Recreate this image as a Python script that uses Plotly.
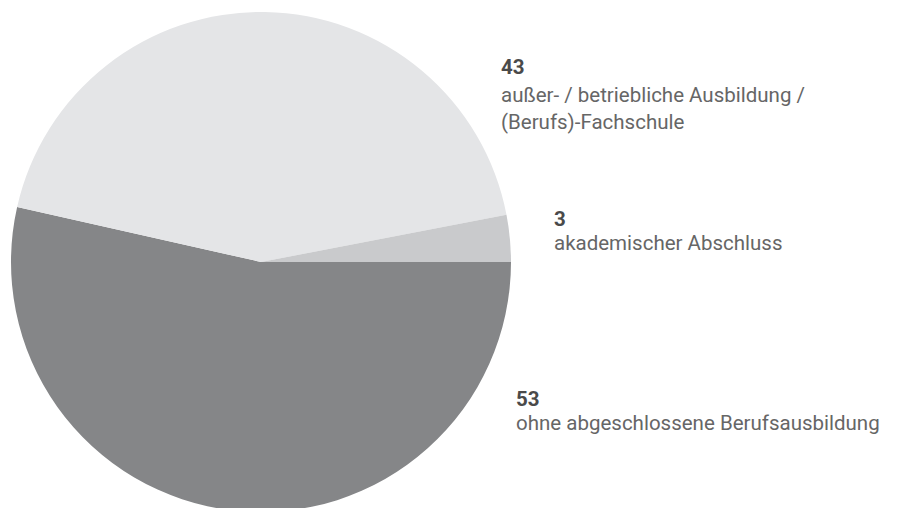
import plotly.graph_objects as go

# order: drawn clockwise starting at 3 o'clock
categories = ["ohne abgeschlossene Berufsausbildung",
              "außer- / betriebliche Ausbildung / (Berufs)-Fachschule",
              "akademischer Abschluss"]
values = [53, 43, 3]
colors = ["#858688", "#e4e5e7", "#c9cacc"]

label_numbers = ["53", "43", "3"]
label_lines = [["ohne abgeschlossene Berufsausbildung"],
               ["außer- / betriebliche Ausbildung /", "(Berufs)-Fachschule"],
               ["akademischer Abschluss"]]

W, H = 897, 508
# the page adds an 8px body margin; positions below are in figure pixels
cx, cy, r = 253, 254, 250
fig = go.Figure(go.Pie(
    labels=categories, values=values, sort=False,
    direction="clockwise", rotation=90,
    marker=dict(colors=colors, line=dict(width=0)),
    textinfo="none", hoverinfo="label+value", showlegend=False,
    domain=dict(x=[(cx - r) / W, (cx + r) / W],
                y=[(H - cy - r) / H, (H - cy + r) / H]),
))

# (x_left, y of number, y of first text line, line spacing) in figure pixels
label_pos = [(506, 391, 415, 27), (491, 59, 87, 27), (544, 211, 235, 27)]
anns = []
for num, lines, (x0, yn, yt, dy) in zip(label_numbers, label_lines, label_pos):
    anns.append(dict(x=x0 / W, y=1 - yn / H, xref="paper", yref="paper",
                     text="<b>" + num + "</b>", showarrow=False,
                     xanchor="left", yanchor="middle",
                     font=dict(family="Roboto", size=20.5, color="#4a4a4a")))
    for i, ln in enumerate(lines):
        anns.append(dict(x=x0 / W, y=1 - (yt + i * dy) / H, xref="paper", yref="paper",
                         text=ln, showarrow=False, xanchor="left", yanchor="middle",
                         font=dict(family="Roboto", size=20.5, color="#666666")))

fig.update_layout(width=W, height=H, margin=dict(l=0, r=0, t=0, b=0),
                  paper_bgcolor="white", plot_bgcolor="white", annotations=anns)
fig.write_html("out.html")
